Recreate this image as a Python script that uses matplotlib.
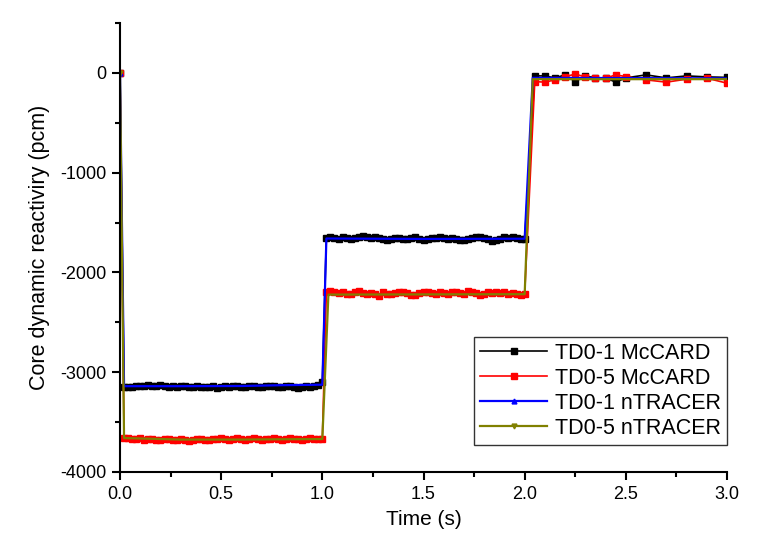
import numpy as np
import matplotlib
matplotlib.use("Agg")
import matplotlib.pyplot as plt
from matplotlib.ticker import MultipleLocator

plt.rcParams['font.family'] = ['Liberation Sans', 'DejaVu Sans']

# ---- data ----
# McCARD time grid: 0..2 s every 0.02 s, then sparser to 3 s
t_mc_a = np.round(np.arange(0, 101) * 0.02, 2)
t_mc_b = [2.05, 2.10, 2.15, 2.20, 2.25, 2.30, 2.35, 2.40, 2.45, 2.50,
          2.60, 2.70, 2.80, 2.90, 3.00]

td01_mc_a = [0,
    -3150, -3145, -3150, -3140, -3135, -3140, -3130, -3135, -3140, -3130,
    -3135, -3145, -3140, -3150, -3140, -3135, -3145, -3150, -3140, -3145,
    -3150, -3145, -3140, -3155, -3150, -3140, -3145, -3135, -3140, -3150,
    -3145, -3140, -3135, -3145, -3150, -3140, -3135, -3140, -3145, -3150,
    -3140, -3135, -3145, -3155, -3150, -3140, -3145, -3135, -3130, -3100,
    -1650, -1645, -1655, -1660, -1640, -1650, -1665, -1655, -1640, -1635,
    -1645, -1650, -1640, -1655, -1660, -1670, -1660, -1655, -1650, -1665,
    -1660, -1650, -1645, -1660, -1670, -1665, -1655, -1650, -1640, -1655,
    -1660, -1650, -1665, -1675, -1670, -1660, -1650, -1640, -1645, -1655,
    -1665, -1680, -1675, -1660, -1645, -1650, -1640, -1655, -1665, -1660]
td01_mc_b = [-30, -30, -50, -20, -87, -30, -50, -50, -93, -50,
             -20, -50, -30, -40, -45]

td05_mc_a = [0,
    -3660, -3655, -3665, -3670, -3660, -3675, -3670, -3665, -3680, -3675,
    -3670, -3665, -3675, -3680, -3670, -3675, -3685, -3680, -3670, -3665,
    -3675, -3680, -3670, -3665, -3660, -3670, -3675, -3665, -3660, -3670,
    -3675, -3665, -3660, -3670, -3680, -3670, -3665, -3660, -3670, -3675,
    -3665, -3660, -3670, -3665, -3675, -3670, -3660, -3665, -3670, -3665,
    -2200, -2190, -2195, -2205, -2200, -2215, -2220, -2200, -2190, -2210,
    -2215, -2205, -2220, -2240, -2195, -2215, -2220, -2210, -2200, -2195,
    -2210, -2225, -2230, -2210, -2195, -2200, -2205, -2215, -2200, -2210,
    -2220, -2195, -2200, -2205, -2215, -2190, -2200, -2210, -2225, -2215,
    -2200, -2205, -2195, -2210, -2200, -2215, -2205, -2220, -2225, -2215]
td05_mc_b = [-87, -93, -70, -37, -13, -40, -55, -53, -20, -37,
             -70, -93, -63, -53, -103]

# nTRACER
t_nt = [0.0, 0.02, 0.3, 0.6, 0.8, 1.0, 1.02, 1.5, 2.0, 2.04, 2.5, 3.0]
td01_nt = [0, -3140, -3140, -3138, -3130, -3125, -1660, -1664, -1662, -50, -52, -55]
t_nt5 = [0.0, 0.02, 0.3, 0.6, 0.8, 1.0, 1.03, 1.5, 2.0, 2.04, 2.5, 3.0]
td05_nt = [0, -3660, -3675, -3675, -3672, -3670, -2222, -2220, -2218, -63, -63, -63]

labels = ["TD0-1 McCARD", "TD0-5 McCARD", "TD0-1 nTRACER", "TD0-5 nTRACER"]
colors = ["black", "red", "blue", "#808000"]

# ---- figure ----
fig = plt.figure(figsize=(7.65, 5.52), dpi=100)
ax = fig.add_axes([120/765, 80/552, 607/765, 449/552])

t_mc = list(t_mc_a) + t_mc_b
ax.plot(t_mc, td01_mc_a + td01_mc_b, color=colors[0], lw=1.2, marker='s',
        ms=4, label=labels[0])
ax.plot(t_mc, td05_mc_a + td05_mc_b, color=colors[1], lw=1.2, marker='s',
        ms=4, label=labels[1])
ax.plot(t_nt, td01_nt, color=colors[2], lw=1.6, marker='^', ms=3.5,
        markevery=[0], label=labels[2])
ax.plot(t_nt5, td05_nt, color=colors[3], lw=1.6, marker='v', ms=3.5,
        markevery=[0], label=labels[3])

ax.set_xlim(0, 3.0)
ax.set_ylim(-4000, 500)
ax.xaxis.set_minor_locator(MultipleLocator(0.25))
ax.yaxis.set_minor_locator(MultipleLocator(500))
ax.set_xticks([0, 0.5, 1.0, 1.5, 2.0, 2.5, 3.0])
ax.set_xticklabels(["0.0", "0.5", "1.0", "1.5", "2.0", "2.5", "3.0"])
ax.set_yticks([0, -1000, -2000, -3000, -4000])
ax.set_yticklabels(["0", "-1000", "-2000", "-3000", "-4000"])

for s in ['top', 'right']:
    ax.spines[s].set_visible(False)
for s in ['left', 'bottom']:
    ax.spines[s].set_linewidth(1.5)
ax.tick_params(which='major', direction='out', length=6, width=1.5,
               labelsize=13, pad=4)
ax.tick_params(which='minor', direction='out', length=3.5, width=1.5)

ax.set_xlabel("Time (s)", fontsize=15, labelpad=5)
ax.set_ylabel("Core dynamic reactiviry (pcm)", fontsize=15.5, labelpad=7)

leg = ax.legend(loc='lower right', bbox_to_anchor=(1.0, 0.06),
                borderaxespad=0, fontsize=15.5, frameon=True, fancybox=False,
                edgecolor='black', handlelength=3.1, handletextpad=0.35,
                labelspacing=0.18, borderpad=0.3)
leg.get_frame().set_linewidth(1.0)

fig.savefig("out.png", dpi=100)
